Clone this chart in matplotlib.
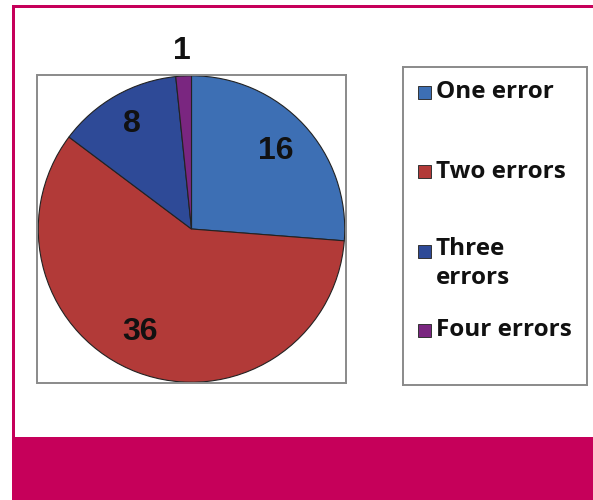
import matplotlib
matplotlib.use("Agg")
import matplotlib.pyplot as plt
from matplotlib.patches import Rectangle
import numpy as np

categories = ["One error", "Two errors", "Three\nerrors", "Four errors"]
values = [16, 36, 8, 1]
colors = ["#3D6FB4", "#B23A38", "#2E4A97", "#7A2680"]
label_dist = [0.75, 0.75, 0.79, 1.16]
label_shift = [0, -6, 0, 0]  # degrees of angular nudge for the value labels

W, H = 593, 500
fig = plt.figure(figsize=(W / 100, H / 100), dpi=100)
fig.patch.set_facecolor("white")

magenta = "#C6005A"
# magenta frame and bottom band
fig.add_artist(Rectangle((12 / W, 0), 1, 63 / H, transform=fig.transFigure,
                         facecolor=magenta, edgecolor="none"))
fig.add_artist(Rectangle((12 / W, 63 / H), 2.5 / W, (494 - 63) / H, transform=fig.transFigure,
                         facecolor=magenta, edgecolor="none"))
fig.add_artist(Rectangle((12 / W, 492.5 / H), 1, 2 / H, transform=fig.transFigure,
                         facecolor=magenta, edgecolor="none"))

# pie axes
ax = fig.add_axes([37 / W, (H - 383) / H, 309 / W, 308 / H])
wedges, _ = ax.pie(values, colors=colors, startangle=90, counterclock=False,
                   wedgeprops=dict(edgecolor="#222222", linewidth=0.8))
ax.set_frame_on(True)
for s in ax.spines.values():
    s.set_color("#8a8a8a")
    s.set_linewidth(1.4)
ax.set_xlim(-1.005, 1.005)
ax.set_ylim(-1.005, 1.005)
ax.set_xticks([])
ax.set_yticks([])

for w, v, d, sh in zip(wedges, values, label_dist, label_shift):
    ang = np.deg2rad((w.theta1 + w.theta2) / 2 + sh)
    ax.text(d * np.cos(ang), d * np.sin(ang), str(v), ha="center", va="center",
            fontsize=23, fontweight="bold", family="Liberation Sans", color="#111111",
            clip_on=False)

# legend box
lax = fig.add_axes([403 / W, (H - 385) / H, 184 / W, 318 / H])
lax.set_xlim(0, 184)
lax.set_ylim(318, 0)
lax.set_xticks([])
lax.set_yticks([])
for s in lax.spines.values():
    s.set_color("#8a8a8a")
    s.set_linewidth(1.4)
row_step = 79.5
first = 25
font = dict(fontsize=17.5, fontweight="bold", family=["Open Sans", "DejaVu Sans"],
            color="#111111")
for i, (lab, c) in enumerate(zip(categories, colors)):
    y = first + i * row_step
    lax.add_patch(Rectangle((15, y - 6.5), 13, 13, facecolor=c, edgecolor="#333333", linewidth=0.7))
    if "\n" in lab:
        lax.text(33, y - 14, lab, ha="left", va="top", linespacing=1.3, **font)
    else:
        lax.text(33, y, lab, ha="left", va="center", **font)

fig.savefig("out.png", dpi=100, facecolor="white")
